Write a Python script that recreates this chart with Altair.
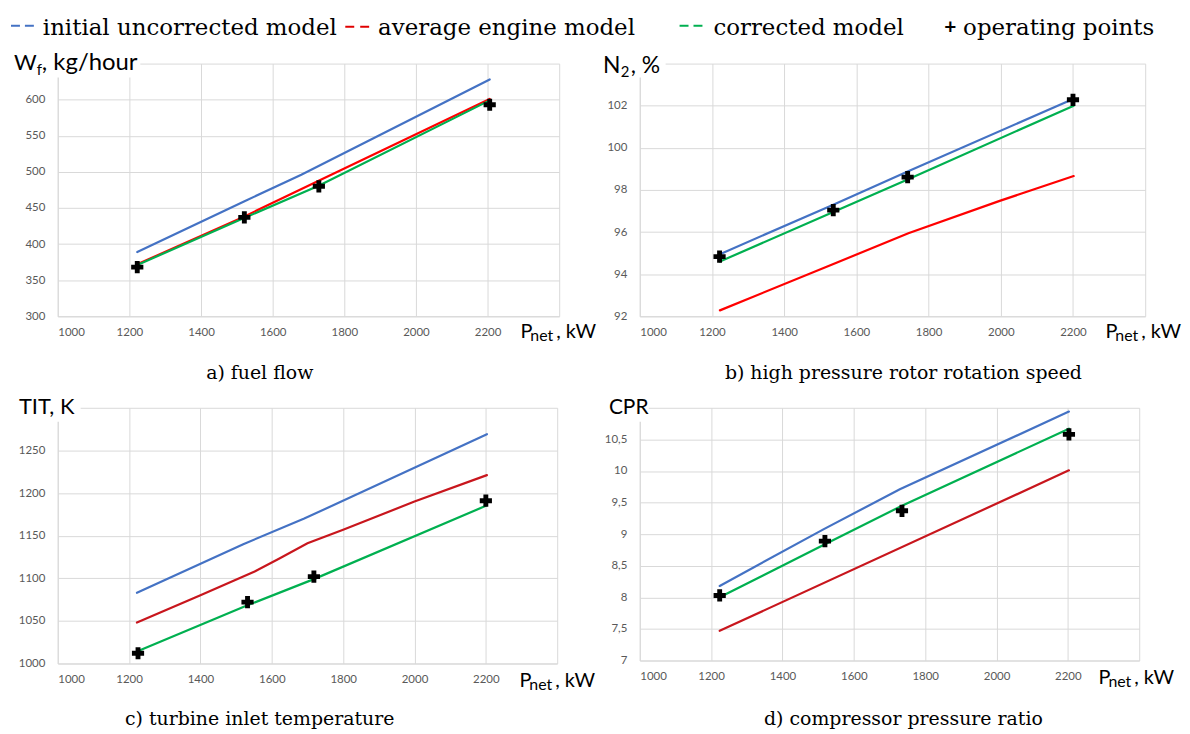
import altair as alt
import pandas as pd

# ---------------- data ----------------
X_TICKS = [1000, 1200, 1400, 1600, 1800, 2000, 2200]

# a) fuel flow
a_blue_x = [1222, 1520, 1680, 2206]
a_blue_y = [389, 459, 496, 628]
a_red_x = [1222, 1520, 1730, 2206]
a_red_y = [372, 438, 488, 601]
a_green_x = [1222, 1520, 1730, 2206]
a_green_y = [371, 436, 481, 599]
a_pts_x = [1222, 1521, 1729, 2206]
a_pts_y = [368, 437, 480, 593]
a_yticks = [300, 350, 400, 450, 500, 550, 600]

# b) high pressure rotor rotation speed
b_blue_x = [1222, 1536, 1742, 2202]
b_blue_y = [94.95, 97.3, 98.88, 102.33]
b_red_x = [1222, 1533, 1744, 1997, 2202]
b_red_y = [92.28, 94.46, 95.94, 97.48, 98.66]
b_green_x = [1222, 1536, 1742, 2202]
b_green_y = [94.6, 96.95, 98.5, 102.0]
b_pts_x = [1221, 1536, 1742, 2200]
b_pts_y = [94.83, 97.04, 98.61, 102.28]
b_yticks = [92, 94, 96, 98, 100, 102]

# c) turbine inlet temperature
c_blue_x = [1222, 1520, 1691, 2203]
c_blue_y = [1083, 1140, 1170, 1269]
c_red_x = [1222, 1400, 1552, 1620, 1700, 1800, 2000, 2203]
c_red_y = [1048, 1080, 1108, 1123, 1141, 1157, 1190, 1221]
c_green_x = [1222, 1530, 1718, 2200]
c_green_y = [1014, 1068, 1099, 1185]
c_pts_x = [1225, 1532, 1718, 2200]
c_pts_y = [1012, 1072, 1102, 1191]
c_yticks = [1000, 1050, 1100, 1150, 1200, 1250]

# d) compressor pressure ratio
d_blue_x = [1224, 1516, 1729, 2203]
d_blue_y = [8.18, 9.08, 9.71, 10.94]
d_red_x = [1224, 2203]
d_red_y = [7.47, 10.01]
d_green_x = [1224, 1519, 1735, 2203]
d_green_y = [8.0, 8.84, 9.45, 10.67]
d_pts_x = [1224, 1519, 1735, 2203]
d_pts_y = [8.03, 8.89, 9.37, 10.58]
d_yticks = [7, 7.5, 8, 8.5, 9, 9.5, 10, 10.5]

legend_labels = ["initial uncorrected model", "average engine model",
                 "corrected model", "operating points"]
captions = ["a) fuel flow", "b) high pressure rotor rotation speed",
            "c) turbine inlet temperature", "d) compressor pressure ratio"]

# ---------------- styles ----------------
BLUE = "#4472C4"
GREEN = "#00B050"
GRID = "#d9d9d9"
LABEL = "#595959"
SANS = "Lato"
SERIF = "DejaVu Serif"
ONE = pd.DataFrame({"k": [0]})


def txt(s, x, y, size, font=SANS, align="left", color="black", weight="normal"):
    return alt.Chart(ONE).mark_text(
        font=font, fontSize=size, align=align, baseline="alphabetic",
        color=color, fontWeight=weight
    ).encode(x=alt.value(x), y=alt.value(y), text=alt.value(s))


def rule(x1, x2, y, color, w=2):
    return alt.Chart(ONE).mark_rule(color=color, strokeWidth=w).encode(
        x=alt.value(x1), x2=alt.value(x2), y=alt.value(y))


def box(x1, x2, y1, y2, color="white", opacity=1):
    return alt.Chart(ONE).mark_rect(color=color, opacity=opacity).encode(
        x=alt.value(x1), x2=alt.value(x2), y=alt.value(y1), y2=alt.value(y2))


def panel(series, pts, ydom, yticks, red, decimal_comma=False):
    xsc = alt.Scale(domain=[1000, 2400], nice=False, zero=False)
    ysc = alt.Scale(domain=ydom, nice=False, zero=False)
    xax = alt.Axis(values=X_TICKS, format="d", grid=True, ticks=False, domain=False,
                   labelPadding=10, labelFont=SANS, labelFontSize=11.5,
                   labelColor=LABEL, gridColor=GRID, title=None)
    ykw = dict(values=yticks, grid=True, ticks=False, domain=False,
               labelPadding=13, labelFont=SANS, labelFontSize=11.5,
               labelColor=LABEL, gridColor=GRID, title=None)
    if decimal_comma:
        ykw["labelExpr"] = "replace(format(datum.value, '.1~f'), '.', ',')"
    else:
        ykw["format"] = "d"
    yax = alt.Axis(**ykw)
    layers = []
    colors = [BLUE, red, GREEN]
    for (xs, ys), col in zip(series, colors):
        df = pd.DataFrame({"x": xs, "y": ys})
        layers.append(
            alt.Chart(df).mark_line(color=col, strokeWidth=2.2, strokeCap="round").encode(
                x=alt.X("x:Q", scale=xsc, axis=xax),
                y=alt.Y("y:Q", scale=ysc, axis=yax)))
    pdf = pd.DataFrame({"x": pts[0], "y": pts[1]})
    layers.append(
        alt.Chart(pdf).mark_point(shape="cross", filled=True, color="black",
                                  size=150, opacity=1).encode(
            x=alt.X("x:Q", scale=xsc, axis=xax),
            y=alt.Y("y:Q", scale=ysc, axis=yax)))
    return layers


def pnet(x0, yb):
    return [txt("P", x0, yb, 20), txt("net", x0 + 10, yb + 3, 16),
            txt(", kW", x0 + 36, yb, 20)]


# ---------------- panel a ----------------
WA, HA = 504, 254
la = panel([(a_blue_x, a_blue_y), (a_red_x, a_red_y), (a_green_x, a_green_y)],
           (a_pts_x, a_pts_y), [300, 650], a_yticks, "#FF0000")
la += [
    box(-49, -45, -53, -50, opacity=0),
    box(-45, 83, -14, 14),
    txt("W", -44, 6, 22), txt("f", -21, 11, 15), txt(", kg/hour", -16, 6, 24),
    # legend
    rule(-47, -38, -38, BLUE), rule(-33, -24, -38, BLUE),
    txt(legend_labels[0], -15, -29, 23, font=SERIF),
    rule(289, 298, -37, "#E00000"), rule(304, 313, -37, "#E00000"),
    txt(legend_labels[1], 322, -29, 23, font=SERIF),
    rule(625, 634, -38, GREEN), rule(639, 648, -38, GREEN),
    txt(legend_labels[2], 659, -29, 23, font=SERIF),
    txt("+", 891, -30, 21, font=SANS, weight="bold"),
    txt(legend_labels[3], 910, -29, 23, font=SERIF),
    txt(captions[0], 203, 317, 19, font=SERIF, align="center"),
] + pnet(465, HA + 22)
chart_a = alt.layer(*la).properties(width=WA, height=HA)

# ---------------- panel b ----------------
WB, HB = 508, 254
lb = panel([(b_blue_x, b_blue_y), (b_red_x, b_red_y), (b_green_x, b_green_y)],
           (b_pts_x, b_pts_y), [92, 104], b_yticks, "#FF0000")
lb += [
    box(-42, 26, -14, 14),
    txt("N", -37, 9, 23), txt("2", -19, 14, 15), txt(", %", -9, 9, 23),
    txt(captions[1], 265, 317, 19, font=SERIF, align="center"),
] + pnet(468, HB + 22)
chart_b = alt.layer(*lb).properties(width=WB, height=HB)

# ---------------- panel c ----------------
WC, HC = 502, 257
lc = panel([(c_blue_x, c_blue_y), (c_red_x, c_red_y), (c_green_x, c_green_y)],
           (c_pts_x, c_pts_y), [1000, 1300], c_yticks, "#C8161D")
lc += [
    box(-43, 23, -14, 14),
    txt("TIT, K", -39, 6, 22),
    txt(captions[2], 203, 319, 19, font=SERIF, align="center"),
] + pnet(464, HC + 24)
chart_c = alt.layer(*lc).properties(width=WC, height=HC)

# ---------------- panel d ----------------
WD, HD = 502, 254
ld = panel([(d_blue_x, d_blue_y), (d_red_x, d_red_y), (d_green_x, d_green_y)],
           (d_pts_x, d_pts_y), [7, 11], d_yticks, "#C8161D",
           decimal_comma=True)
ld += [
    box(-35, 9, -14, 14),
    txt("CPR", -31, 6, 21),
    txt(captions[3], 265, 319, 19, font=SERIF, align="center"),
] + pnet(461, HD + 24)
chart_d = alt.layer(*ld).properties(width=WD, height=HD)

chart = alt.concat(
    chart_a, chart_b, chart_c, chart_d,
    columns=2, spacing={"row": 92, "column": 81}, bounds="flush",
).resolve_scale(
    x="independent", y="independent"
).properties(
    padding={"left": 0, "top": 0, "right": 0, "bottom": 0},
    background="white",
).configure_view(stroke=GRID, strokeWidth=1)

chart.save("out.html", embed_options={"renderer": "svg", "actions": False})
